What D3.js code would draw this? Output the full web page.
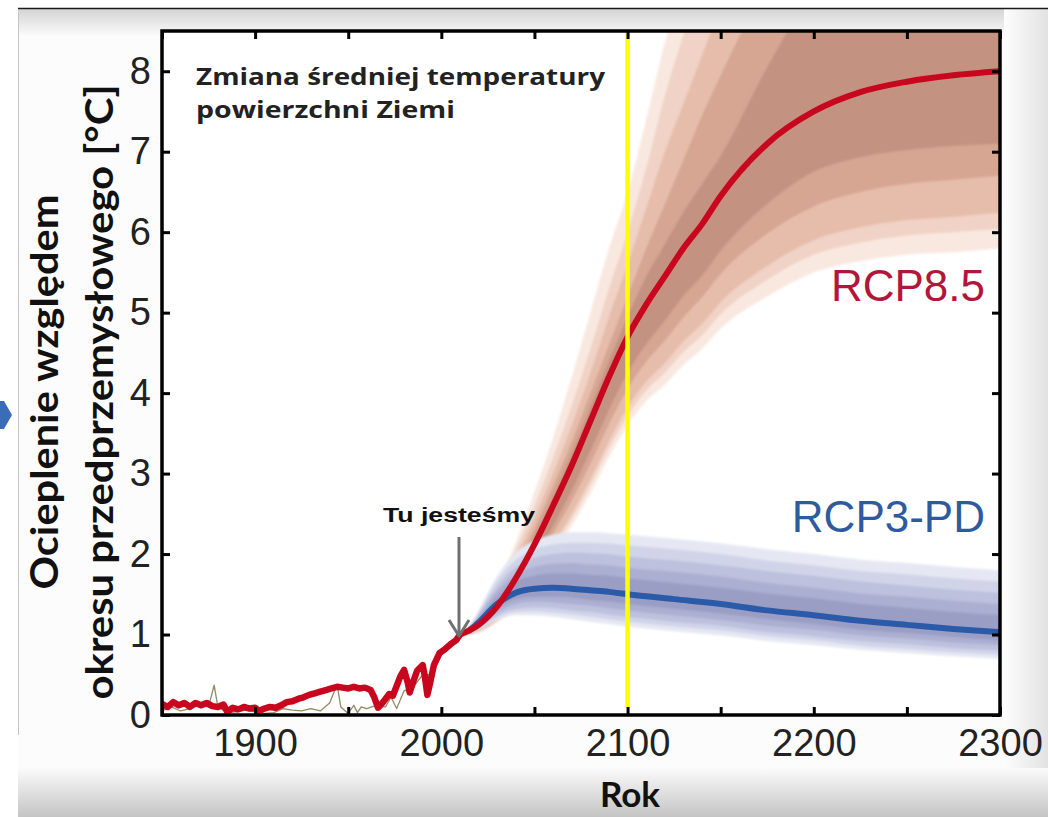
<!DOCTYPE html>
<html><head><meta charset="utf-8">
<script src="https://cdn.jsdelivr.net/npm/d3@7"></script>
<style>body{margin:0;background:#fff;} svg{display:block}</style>
</head><body><svg id="c" width="1048" height="817"></svg>
<script>
// ---------------- DATA ----------------
const xTickYears = [1850, 1900, 1950, 2000, 2050, 2100, 2150, 2200, 2250, 2300];
const xTickLabels = [1900, 2000, 2100, 2200, 2300];
const yTickValues = [0, 1, 2, 3, 4, 5, 6, 7, 8];

// simulated historical warming (red)
const histYears = [1850,1853,1856,1859,1862,1865,1868,1871,1874,1877,1880,1883,1885,1888,1891,1894,1897,1900,1902,1905,1908,1911,1914,1917,1920,1923,1926,1929,1932,1935,1938,1941,1944,1947,1950,1953,1956,1959,1962,1964,1966,1968,1970,1972,1974,1976,1978,1980,1982,1983,1985,1987,1990,1991,1992.5,1994,1996,1999,2002,2005,2008,2010];
const histTemp  = [0.14,0.10,0.16,0.12,0.15,0.10,0.15,0.12,0.15,0.11,0.10,0.13,0.04,0.09,0.07,0.10,0.08,0.09,0.05,0.08,0.10,0.09,0.12,0.16,0.17,0.20,0.22,0.25,0.27,0.29,0.31,0.33,0.35,0.34,0.33,0.35,0.33,0.34,0.31,0.22,0.09,0.14,0.20,0.26,0.24,0.36,0.48,0.56,0.40,0.28,0.42,0.55,0.62,0.50,0.25,0.40,0.62,0.77,0.82,0.88,0.93,1.00];

// observations (thin olive line)
const obsYears = [1850,1855,1860,1865,1870,1875,1878,1880,1885,1890,1895,1900,1905,1910,1915,1920,1925,1930,1935,1940,1944,1946,1950,1953,1955,1957,1960,1965,1970,1973,1976,1980,1985,1990,1995,2000,2005];
const obsTemp  = [0.05,0.10,0.05,0.08,0.12,0.10,0.37,0.10,0.03,0.04,0.06,0.04,0.02,0.03,0.08,0.06,0.05,0.08,0.05,0.15,0.38,0.10,0.02,0.12,0.03,0.10,0.08,0.12,0.10,0.22,0.08,0.30,0.35,0.50,0.50,0.75,0.85];

// RCP8.5 projection
const rcp85Years  = [2010,2020,2030,2040,2050,2060,2070,2080,2090,2100,2110,2120,2130,2140,2150,2175,2200,2225,2250,2275,2300];
const rcp85Median = [1.00,1.12,1.35,1.70,2.12,2.60,3.10,3.65,4.20,4.70,5.10,5.45,5.80,6.10,6.45,7.10,7.50,7.74,7.87,7.95,8.00];
const rcp85Hi0 = [1.03,1.24,1.60,2.15,2.77,3.45,4.20,5.00,5.80,6.50,7.40,8.35,9.10,9.70,10.25,11.0,11.5,11.7,11.9,12.0,12.0];
const rcp85Hi1 = [1.02,1.20,1.53,2.05,2.60,3.20,3.85,4.55,5.30,6.00,6.80,7.70,8.45,9.10,9.60,10.5,11.0,11.2,11.4,11.5,11.5];
const rcp85Hi2 = [1.02,1.18,1.48,1.95,2.45,3.00,3.60,4.25,4.95,5.60,6.30,7.00,7.60,8.20,8.80,9.90,10.5,10.8,11.0,11.0,11.0];
const rcp85Hi3 = [1.01,1.16,1.43,1.85,2.32,2.85,3.40,4.00,4.60,5.20,5.80,6.35,6.90,7.45,7.95,9.10,10.0,10.4,10.6,10.7,10.7];
const rcp85Hi4 = [1.01,1.14,1.39,1.78,2.22,2.72,3.25,3.82,4.40,4.95,5.45,5.85,6.25,6.60,6.95,8.05,9.00,9.50,9.80,9.90,10.0];
const rcp85Lo0 = [0.98,1.02,1.15,1.35,1.62,2.00,2.35,2.75,3.20,3.60,3.90,4.10,4.35,4.55,4.80,5.20,5.50,5.64,5.72,5.75,5.80];
const rcp85Lo1 = [0.98,1.03,1.17,1.39,1.68,2.07,2.43,2.85,3.31,3.72,4.03,4.25,4.51,4.72,4.98,5.41,5.72,5.87,5.96,6.00,6.04];
const rcp85Lo2 = [0.98,1.04,1.19,1.42,1.72,2.12,2.50,2.93,3.40,3.82,4.14,4.37,4.64,4.86,5.13,5.58,5.90,6.06,6.15,6.19,6.24];
const rcp85Lo3 = [0.99,1.06,1.23,1.49,1.83,2.25,2.66,3.12,3.61,4.05,4.39,4.65,4.94,5.19,5.48,5.98,6.32,6.50,6.60,6.65,6.70];
const rcp85Lo4 = [0.99,1.08,1.27,1.56,1.92,2.35,2.79,3.28,3.79,4.25,4.61,4.90,5.21,5.46,5.77,6.35,6.75,6.93,7.02,7.07,7.10];

// RCP3-PD projection
const rcp3Years  = [2015,2020,2030,2040,2050,2060,2070,2080,2090,2100,2125,2150,2175,2200,2225,2250,2275,2300];
const rcp3Median = [1.05,1.15,1.38,1.52,1.57,1.58,1.57,1.55,1.53,1.50,1.44,1.38,1.30,1.24,1.17,1.12,1.07,1.03];
const rcp3Hi0 = [1.09,1.30,1.73,2.02,2.17,2.24,2.27,2.27,2.26,2.24,2.19,2.13,2.06,2.00,1.93,1.89,1.84,1.80];
const rcp3Hi1 = [1.08,1.27,1.67,1.93,2.06,2.12,2.14,2.14,2.13,2.11,2.06,2.00,1.92,1.86,1.79,1.75,1.70,1.66];
const rcp3Hi2 = [1.08,1.25,1.60,1.84,1.95,2.00,2.02,2.01,2.00,1.97,1.92,1.86,1.79,1.73,1.66,1.61,1.56,1.52];
const rcp3Hi3 = [1.07,1.22,1.54,1.75,1.84,1.88,1.89,1.87,1.86,1.83,1.78,1.72,1.64,1.58,1.51,1.47,1.42,1.38];
const rcp3Hi4 = [1.06,1.19,1.47,1.66,1.73,1.76,1.76,1.74,1.73,1.70,1.64,1.58,1.51,1.45,1.38,1.33,1.28,1.24];
const rcp3Lo0 = [1.01,1.05,1.18,1.24,1.24,1.22,1.19,1.16,1.13,1.10,1.04,0.99,0.92,0.87,0.81,0.77,0.73,0.70];
const rcp3Lo1 = [1.02,1.07,1.21,1.28,1.29,1.27,1.25,1.22,1.19,1.16,1.10,1.05,0.98,0.93,0.86,0.82,0.78,0.75];
const rcp3Lo2 = [1.02,1.08,1.24,1.32,1.34,1.33,1.30,1.28,1.25,1.22,1.16,1.11,1.03,0.98,0.92,0.88,0.83,0.80];
const rcp3Lo3 = [1.03,1.10,1.28,1.38,1.41,1.40,1.38,1.36,1.33,1.30,1.24,1.18,1.11,1.06,0.99,0.95,0.90,0.87];
const rcp3Lo4 = [1.04,1.12,1.32,1.44,1.47,1.47,1.46,1.43,1.41,1.38,1.32,1.26,1.19,1.13,1.06,1.02,0.97,0.93];

const markerYear = 2100;
const redBandColors  = ["#f9e8e0", "#f0d3c6", "#e6bdab", "#d6a693", "#c49281"];
const blueBandColors = ["#e5e7f3", "#d1d4e9", "#bdc1dd", "#abafd1", "#9a9ec4"];

// ---------------- DRAW ----------------
const svg = d3.select("#c");
const W = 1048, H = 817;
const P = {l: 162, r: 1000, t: 31, b: 715};
const x = d3.scaleLinear().domain([1850, 2300]).range([P.l, P.r]);
const y = d3.scaleLinear().domain([0, 8.5]).range([P.b, P.t]);

const defs = svg.append("defs");
function vgrad(id, stops, horiz) {
  const g = defs.append("linearGradient").attr("id", id)
    .attr("x1", 0).attr("y1", 0).attr("x2", horiz ? 1 : 0).attr("y2", horiz ? 0 : 1);
  stops.forEach(s => g.append("stop").attr("offset", s[0]).attr("stop-color", s[1]));
}
vgrad("gTop", [[0, "#d4d4d4"], [1, "#fafafa"]]);
vgrad("gBot", [[0, "#fbfbfb"], [1, "#c4c4c4"]]);
vgrad("gRight", [[0, "#fdfdfd"], [1, "#e2e2e2"]], true);
defs.append("clipPath").attr("id", "plotClip").append("rect")
  .attr("x", P.l).attr("y", P.t).attr("width", P.r - P.l).attr("height", P.b - P.t);
defs.append("filter").attr("id", "soft").attr("x", "-5%").attr("y", "-5%").attr("width", "110%").attr("height", "110%")
  .append("feGaussianBlur").attr("stdDeviation", 1.1);

// background frame (screenshot look)
svg.append("rect").attr("width", W).attr("height", H).attr("fill", "#ffffff");
svg.append("rect").attr("x", 18).attr("y", 9).attr("width", W - 18).attr("height", H - 9).attr("fill", "#fcfcfc");
svg.append("rect").attr("x", 18).attr("y", 9).attr("width", W - 18).attr("height", 26).attr("fill", "url(#gTop)");
svg.append("rect").attr("x", 1004).attr("y", 9).attr("width", 44).attr("height", H - 9).attr("fill", "url(#gRight)");
svg.append("rect").attr("x", 18).attr("y", 768).attr("width", W - 18).attr("height", 49).attr("fill", "url(#gBot)");
svg.append("line").attr("x1", 18).attr("x2", W).attr("y1", 8.5).attr("y2", 8.5).attr("stroke", "#1a1a1a").attr("stroke-width", 1.5);
svg.append("line").attr("x1", 18.5).attr("x2", 18.5).attr("y1", 9).attr("y2", 735).attr("stroke", "#c4c4c4").attr("stroke-width", 1);
svg.append("polygon").attr("points", "0,401 4,401 12,415 4,429 0,429").attr("fill", "#3b6cb6");

// plot background
svg.append("rect").attr("x", P.l).attr("y", P.t).attr("width", P.r - P.l).attr("height", P.b - P.t).attr("fill", "#ffffff");

const plot = svg.append("g").attr("clip-path", "url(#plotClip)");

function bands(years, los, his, colors) {
  const g = plot.append("g").attr("filter", "url(#soft)");
  los.forEach((lo, k) => {
    const hi = his[k];
    const area = d3.area()
      .x((d, i) => x(years[i]))
      .y0((d, i) => y(lo[i]))
      .y1((d, i) => y(hi[i]))
      .curve(d3.curveMonotoneX);
    g.append("path").attr("d", area(years)).attr("fill", colors[k]);
  });
}
bands(rcp85Years, [rcp85Lo0, rcp85Lo1, rcp85Lo2, rcp85Lo3, rcp85Lo4],
      [rcp85Hi0, rcp85Hi1, rcp85Hi2, rcp85Hi3, rcp85Hi4], redBandColors);
bands(rcp3Years, [rcp3Lo0, rcp3Lo1, rcp3Lo2, rcp3Lo3, rcp3Lo4],
      [rcp3Hi0, rcp3Hi1, rcp3Hi2, rcp3Hi3, rcp3Hi4], blueBandColors);

function line(years, vals, color, width, curve) {
  const l = d3.line().x((d, i) => x(years[i])).y((d, i) => y(vals[i])).curve(curve || d3.curveMonotoneX);
  plot.append("path").attr("d", l(years)).attr("fill", "none").attr("stroke", color)
    .attr("stroke-width", width).attr("stroke-linejoin", "round").attr("stroke-linecap", "round");
}
line(obsYears, obsTemp, "#8e8c62", 1.3, d3.curveLinear);
line(rcp3Years, rcp3Median, "#2b5ba8", 6);
line(histYears, histTemp, "#c8061e", 6.5, d3.curveLinear);
line(rcp85Years, rcp85Median, "#c8061e", 6);

// yellow marker line
svg.append("line").attr("x1", x(markerYear)).attr("x2", x(markerYear))
  .attr("y1", P.t).attr("y2", 708).attr("stroke", "#ffff00").attr("stroke-width", 4.5);

// axes
const tickFont = "'Liberation Sans', Arial, sans-serif";
function styleAxis(g) {
  g.select(".domain").remove();
  g.selectAll(".tick line").attr("stroke", "#000").attr("stroke-width", 3);
  g.selectAll("text").attr("font-family", tickFont).attr("font-size", 38).attr("fill", "#222");
}
svg.append("g").attr("transform", `translate(0,${P.b})`)
  .call(d3.axisBottom(x).tickValues(xTickYears).tickSizeInner(-8).tickSizeOuter(0).tickPadding(14)
    .tickFormat(d => xTickLabels.includes(d) ? String(d) : ""))
  .call(styleAxis);
svg.append("g").attr("transform", `translate(0,${P.t})`)
  .call(d3.axisTop(x).tickValues(xTickYears).tickSizeInner(-8).tickSizeOuter(0).tickFormat(""))
  .call(styleAxis);
svg.append("g").attr("transform", `translate(${P.l},0)`)
  .call(d3.axisLeft(y).tickValues(yTickValues).tickSizeInner(-8).tickSizeOuter(0).tickPadding(11).tickFormat(d3.format("d")))
  .call(styleAxis);
svg.append("g").attr("transform", `translate(${P.r},0)`)
  .call(d3.axisRight(y).tickValues(yTickValues).tickSizeInner(-8).tickSizeOuter(0).tickFormat(""))
  .call(styleAxis);

svg.append("rect").attr("x", P.l).attr("y", P.t).attr("width", P.r - P.l).attr("height", P.b - P.t)
  .attr("fill", "none").attr("stroke", "#000").attr("stroke-width", 3.5);

// texts
const boldFont = "Lato, 'Open Sans', sans-serif";
svg.append("text").attr("x", 196).attr("y", 85).attr("font-family", "'Open Sans', sans-serif").attr("font-weight", 700)
  .attr("font-size", 23).attr("fill", "#222").attr("textLength", 409).attr("lengthAdjust", "spacingAndGlyphs")
  .text("Zmiana średniej temperatury");
svg.append("text").attr("x", 196).attr("y", 118).attr("font-family", "'Open Sans', sans-serif").attr("font-weight", 700)
  .attr("font-size", 23).attr("fill", "#222").attr("textLength", 259).attr("lengthAdjust", "spacingAndGlyphs")
  .text("powierzchni Ziemi");

svg.append("text").attr("x", 383).attr("y", 522).attr("font-family", "'Liberation Sans', Arial, sans-serif").attr("font-weight", 700)
  .attr("font-size", 20).attr("fill", "#111").attr("textLength", 152).attr("lengthAdjust", "spacingAndGlyphs")
  .text("Tu jesteśmy");
// arrow
const ax = 459;
svg.append("line").attr("x1", ax).attr("x2", ax).attr("y1", 537).attr("y2", 635).attr("stroke", "#707070").attr("stroke-width", 3);
svg.append("polyline").attr("points", `${ax - 10},620 ${ax},636 ${ax + 10},620`).attr("fill", "none")
  .attr("stroke", "#707070").attr("stroke-width", 3).attr("stroke-linejoin", "round");

svg.append("text").attr("x", 985).attr("y", 301).attr("text-anchor", "end")
  .attr("font-family", "'Liberation Sans', Arial, sans-serif").attr("font-size", 44).attr("fill", "#b0173a")
  .text("RCP8.5");
svg.append("text").attr("x", 985).attr("y", 532).attr("text-anchor", "end")
  .attr("font-family", "'Liberation Sans', Arial, sans-serif").attr("font-size", 44).attr("fill", "#2e5b9f")
  .text("RCP3-PD");

// axis titles
svg.append("text").attr("transform", "translate(58,392) rotate(-90)").attr("text-anchor", "middle")
  .attr("font-family", boldFont).attr("font-weight", 700).attr("font-size", 38).attr("fill", "#111")
  .attr("textLength", 395).attr("lengthAdjust", "spacingAndGlyphs")
  .text("Ocieplenie względem");
svg.append("text").attr("transform", "translate(113,392) rotate(-90)").attr("text-anchor", "middle")
  .attr("font-family", boldFont).attr("font-weight", 700).attr("font-size", 38).attr("fill", "#111")
  .attr("textLength", 615).attr("lengthAdjust", "spacingAndGlyphs")
  .text("okresu przedprzemysłowego [°C]");
svg.append("text").attr("x", 630).attr("y", 807).attr("text-anchor", "middle")
  .attr("font-family", boldFont).attr("font-weight", 700).attr("font-size", 35).attr("fill", "#111")
  .text("Rok");
</script></body></html>
